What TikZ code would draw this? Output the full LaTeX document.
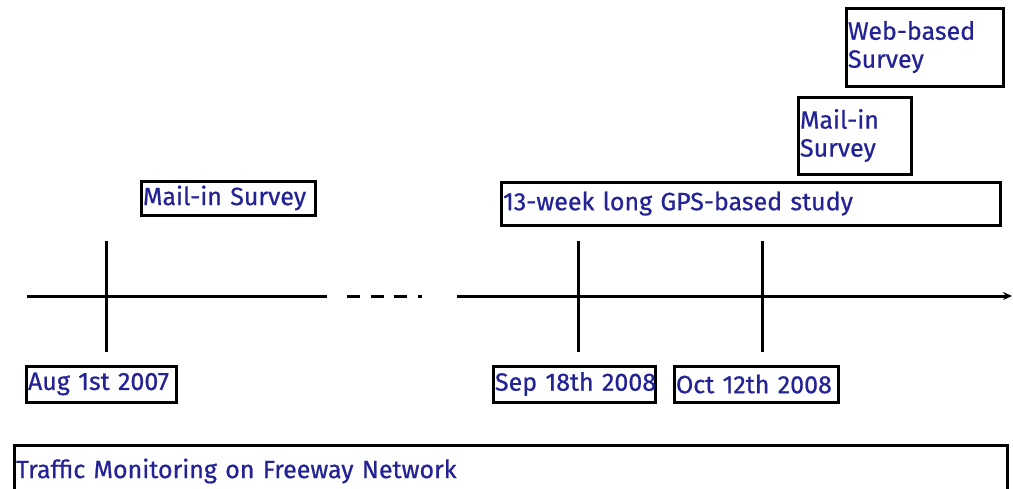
\documentclass[tikz,border=0pt]{standalone}
\usepackage{fontspec}
\setmainfont{Fira Sans}[FakeBold=0.7]
\usetikzlibrary{arrows.meta}
\definecolor{txtblue}{RGB}{35,35,150}
\begin{document}
\begin{tikzpicture}[x=1pt,y=-1pt,
  box/.style={draw,line width=3pt,outer sep=0pt,inner xsep=2pt,inner ysep=0pt,
    anchor=north west,align=left,text=txtblue,font=\fontsize{25}{28}\selectfont},
  axisline/.style={line width=3pt},
  tickline/.style={line width=3pt}]
\useasboundingbox (0,0) rectangle (1013,488);
% boxes
\node[box,text width=153pt,minimum height=78pt] (web) at (846,8) {Web-based\\Survey};
\node[box,text width=109pt,minimum height=77pt] (mailr) at (798,97) {Mail-in\\Survey};
\node[box,text width=495pt,minimum height=43pt] (gps) at (501,182) {\mbox{13-week long GPS-based study}};
\node[box,text width=170pt,minimum height=34pt] (maill) at (141,181) {\mbox{Mail-in Survey}};
\node[box,text width=146pt,minimum height=36pt] (aug) at (26,366) {\mbox{Aug 1st 2007}};
\node[box,text width=158pt,minimum height=36pt] (sep) at (493,366) {\mbox{Sep 18th 2008}};
\node[box,text width=160pt,minimum height=36pt] (oct) at (674,366) {\mbox{Oct 12th 2008}};
\node[box,text width=989pt,minimum height=52pt] (traffic) at (14,445) {\mbox{Traffic Monitoring on Freeway Network}};
% axis
\coordinate (a0) at (27,296);
\coordinate (a1) at (327,296);
\coordinate (d0) at (347,296);
\coordinate (d1) at (422,296);
\coordinate (b0) at (457,296);
\coordinate (b1) at (1012,296);
\draw[axisline] (a0) -- (a1);
\draw[axisline,dash pattern=on 13pt off 10.5pt] (d0) -- (d1);
\draw[axisline,-{Stealth[length=9pt,width=8pt]}] (b0) -- (b1);
% ticks
\coordinate (t1a) at (106,241); \coordinate (t1b) at (106,352);
\coordinate (t2a) at (578,241); \coordinate (t2b) at (578,352);
\coordinate (t3a) at (762,241); \coordinate (t3b) at (762,352);
\draw[tickline] (t1a) -- (t1b);
\draw[tickline] (t2a) -- (t2b);
\draw[tickline] (t3a) -- (t3b);
\end{tikzpicture}
\end{document}
